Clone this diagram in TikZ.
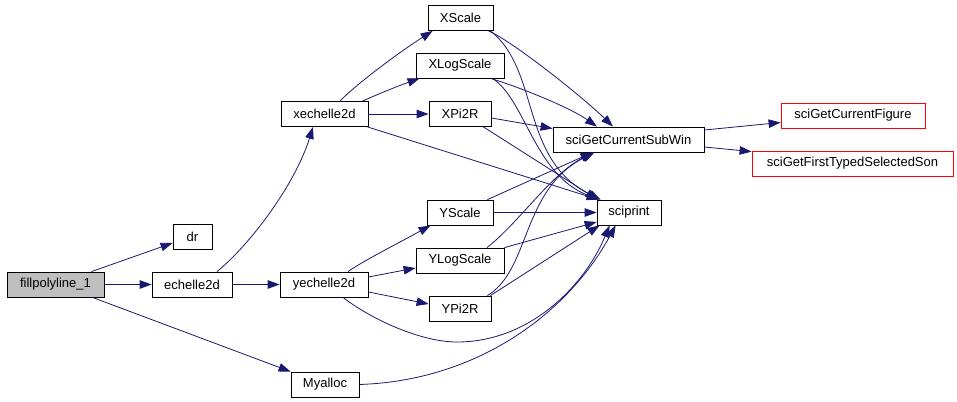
\documentclass[tikz,border=0pt]{standalone}
\usepackage{fontspec}
\setmainfont{Liberation Sans}
\usetikzlibrary{arrows.meta,calc}
\definecolor{edgecol}{RGB}{25,25,112}
\definecolor{greyfill}{RGB}{191,191,191}
\tikzset{
  box/.style={draw=black, line width=0.8pt, minimum height=25pt, inner sep=0pt, font=\fontsize{13}{15}\selectfont},
  redbox/.style={box, draw=red},
  edge/.style={draw=edgecol, line width=0.8pt, -{Triangle[length=12pt,width=8.5pt]}}
}
\begin{document}
\begin{tikzpicture}[x=1pt,y=-1pt]
\useasboundingbox (0,0) rectangle (957,401);
% nodes
\node[box, minimum width=97pt, fill=greyfill] (fill) at (55.5,284.5) {fillpolyline\_1};
\node[box, minimum width=39pt] (dr) at (192.5,236.5) {dr};
\node[box, minimum width=80pt] (echelle2d) at (192,284.5) {echelle2d};
\node[box, minimum width=88pt] (yechelle2d) at (324,284.5) {yechelle2d};
\node[box, minimum width=68pt] (Myalloc) at (325,384.5) {Myalloc};
\node[box, minimum width=87pt] (xechelle2d) at (324.5,114) {xechelle2d};
\node[box, minimum width=65pt] (XScale) at (460.5,18) {XScale};
\node[box, minimum width=88pt] (XLogScale) at (460,65.5) {XLogScale};
\node[box, minimum width=62pt] (XPi2R) at (460,114) {XPi2R};
\node[box, minimum width=151pt] (SubWin) at (628.5,139.5) {sciGetCurrentSubWin};
\node[box, minimum width=66pt] (YScale) at (460,212.5) {YScale};
\node[box, minimum width=64pt] (sciprint) at (629,212.5) {sciprint};
\node[box, minimum width=88pt] (YLogScale) at (460,260.5) {YLogScale};
\node[box, minimum width=62pt] (YPi2R) at (460,308.5) {YPi2R};
\node[redbox, minimum width=144pt] (Figure) at (853,115.5) {sciGetCurrentFigure};
\node[redbox, minimum width=201pt] (Son) at (852.5,163.5) {sciGetFirstTypedSelectedSon};
% edges
\draw[edge] ($(fill.north east)+(-13,0)$) -- ($(dr.west)+(0,6.5)$);
\draw[edge] (fill.east) -- (echelle2d.west);
\draw[edge] ($(fill.south east)+(-12,0)$) -- (Myalloc.north west);
\draw[edge] (echelle2d.east) -- (yechelle2d.west);
\draw[edge] ($(echelle2d.north)+(25,0)$) .. controls +(33,-27) and +(-18,58) .. ($(xechelle2d.south)+(-11.5,0)$);
\draw[edge] ($(xechelle2d.north)+(15.5,0)$) .. controls +(15,-16) and +(-33,21) .. ($(XScale.south west)+(5,0)$);
\draw[edge] ($(xechelle2d.north east)+(-6,0)$) .. controls +(18,-8) and +(-20,7) .. ($(XLogScale.south west)+(4,0)$);
\draw[edge] (xechelle2d.east) -- (XPi2R.west);
\draw[edge] ($(xechelle2d.south east)+(-1,0)$) -- ($(sciprint.north west)+(2,0)$);
\draw[edge] ($(yechelle2d.north)+(24,0)$) .. controls +(14,-10) and +(-31,17) .. ($(YScale.south west)+(4,0)$);
\draw[edge] ($(yechelle2d.east)+(0,-7.5)$) -- ($(YLogScale.west)+(0,7.5)$);
\draw[edge] ($(yechelle2d.east)+(0,7.5)$) -- ($(YPi2R.west)+(0,-4.5)$);
\draw[edge] ($(yechelle2d.south)+(19,0)$) .. controls +(27,21) and (420,342) .. (457,342)
  .. controls (530,342) and +(-25,60) .. ($(sciprint.south west)+(13,0)$);
\draw[edge] (Myalloc.east) .. controls +(121,-4) and +(-46,85) .. ($(sciprint.south west)+(19,0)$);
\draw[edge] ($(SubWin.east)+(0,-9.5)$) -- ($(Figure.west)+(0,7)$);
\draw[edge] ($(SubWin.east)+(0,7.5)$) -- ($(Son.north west)+(0,1)$);
\draw[edge] ($(XScale.south east)+(-5,0)$) .. controls +(22,9) and +(-33,-32) .. ($(SubWin.north)+(-15.5,0)$);
\draw[edge] ($(XScale.south east)+(-3,0)$) .. controls +(50,39) and +(-81,-40) .. ($(sciprint.north west)+(4,0)$);
\draw[edge] ($(XLogScale.south east)+(-14,0)$) .. controls +(30,9) and +(-27,-19) .. ($(SubWin.north)+(-31.5,0)$);
\draw[edge] ($(XLogScale.south east)+(-12,0)$) .. controls +(33,21) and +(-65,-24) .. ($(sciprint.north west)+(3,0)$);
\draw[edge] ($(XPi2R.east)+(0,4)$) -- ($(SubWin.west)+(0,-11)$);
\draw[edge] ($(XPi2R.south east)+(-8,0)$) -- ($(sciprint.north west)+(1,0)$);
\draw[edge] (YScale.east) -- (sciprint.west);
\draw[edge] ($(YScale.north east)+(-6,0)$) -- ($(SubWin.south)+(-36,0)$);
\draw[edge] ($(YLogScale.north)+(27,0)$) .. controls +(33,-26) and +(-43,22) .. ($(SubWin.south)+(-35,0)$);
\draw[edge] (YLogScale.north east) -- ($(sciprint.west)+(0,9.5)$);
\draw[edge] ($(YPi2R.north east)+(-4,0)$) .. controls +(43,-26) and +(-73,37) .. ($(SubWin.south)+(-34,0)$);
\draw[edge] ($(YPi2R.north east)+(-1,0)$) -- ($(sciprint.south west)+(3,0)$);
\end{tikzpicture}
\end{document}
